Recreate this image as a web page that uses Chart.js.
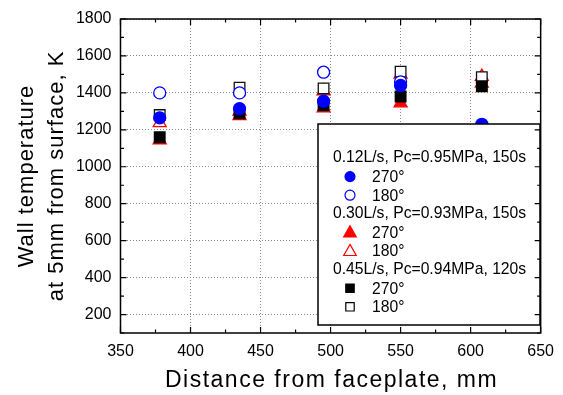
<!DOCTYPE html>
<html><head><meta charset="utf-8">
<script src="https://cdn.jsdelivr.net/npm/chart.js@4"></script>
<style>html,body{margin:0;padding:0;background:#fff}#wrap{width:563px;height:395px}</style>
</head><body><div id="wrap"><canvas id="c" width="563" height="395"></canvas></div>
<script>
const distance = [378, 435, 495, 550, 608];
const s012_270 = [1265, 1315, 1355, 1440, 1230];
const s012_180 = [1400, 1400, 1512, 1460, null];
const s030_270 = [1145, 1275, 1318, 1345, 1452];
const s030_180 = [1238, 1300, 1410, 1500, 1488];
const s045_270 = [1160, 1290, 1333, 1380, 1436];
const s045_180 = [1280, 1428, 1424, 1515, 1485];
const xTicks = [350, 400, 450, 500, 550, 600, 650];
const yTicks = [200, 400, 600, 800, 1000, 1200, 1400, 1600, 1800];
const groupTitles = ['0.12L/s, Pc=0.95MPa, 150s', '0.30L/s, Pc=0.93MPa, 150s', '0.45L/s, Pc=0.94MPa, 120s'];
const angleLabels = ['270°', '180°'];
const xTitle = 'Distance from faceplate, mm';
const yTitle = ['Wall temperature', 'at 5mm from surface, K'];

const FONT = '"Liberation Sans", Arial, sans-serif';
const pts = v => distance.map((x, i) => ({x, y: v[i]}));
function ds(label, data, style, color, filled, r, order) {
  return {label, data: pts(data), showLine: false, pointStyle: style, pointRadius: r, pointHoverRadius: r,
    pointBackgroundColor: filled ? color : '#fff', pointBorderColor: color, pointBorderWidth: 1.3, order};
}
const datasets = [
  ds('0.12 270', s012_270, 'circle', '#0000ff', true, 6, 0),
  ds('0.12 180', s012_180, 'circle', '#0000ff', false, 6, 0),
  ds('0.30 270', s030_270, 'triangle', '#ff0000', true, 7.5, 2),
  ds('0.30 180', s030_180, 'triangle', '#ff0000', false, 7.5, 2),
  ds('0.45 270', s045_270, 'rect', '#000000', true, 7.5, 1),
  ds('0.45 180', s045_180, 'rect', '#111111', false, 7.5, 1),
];

function marker(ctx, style, x, y, r, color, filled) {
  ctx.save();
  ctx.beginPath();
  if (style === 'circle') ctx.arc(x, y, r, 0, Math.PI * 2);
  else if (style === 'rect') ctx.rect(x - r, y - r, 2 * r, 2 * r);
  else { ctx.moveTo(x, y - r * 1.1); ctx.lineTo(x + r * 1.05, y + r * 0.75); ctx.lineTo(x - r * 1.05, y + r * 0.75); ctx.closePath(); }
  ctx.fillStyle = filled ? color : '#fff';
  ctx.fill();
  ctx.lineWidth = 1.2; ctx.strokeStyle = color; ctx.stroke();
  ctx.restore();
}

const decor = {
  id: 'decor',
  afterDatasetsDraw(chart) {
    const {ctx, chartArea: a, scales: {x, y}} = chart;
    ctx.save();
    // legend box
    const L = 318, T = 124, R = 540, B = 325;
    ctx.fillStyle = '#fff'; ctx.fillRect(L, T, R - L, B - T);
    ctx.lineWidth = 1.5; ctx.strokeStyle = '#000'; ctx.strokeRect(L, T, R - L, B - T);
    ctx.fillStyle = '#000'; ctx.textBaseline = 'middle'; ctx.textAlign = 'left';
    ctx.font = '15.7px ' + FONT;
    const styles = [['circle', '#0000ff'], ['triangle', '#ff0000'], ['rect', '#000000']];
    let yy = 158;
    groupTitles.forEach((t, g) => {
      ctx.fillStyle = '#000';
      ctx.fillText(t, 333, yy); yy += 18.6;
      angleLabels.forEach((lab, k) => {
        const [st, col] = styles[g];
        const rr = st === 'circle' ? 5 : (st === 'rect' ? 4.2 : 6);
        marker(ctx, st, 350, yy, rr, col, k === 0);
        ctx.fillStyle = '#000';
        ctx.fillText(lab, 372, yy + 1); yy += 18.6;
      });
    });
    // frame
    ctx.lineWidth = 1.5; ctx.strokeStyle = '#000';
    ctx.strokeRect(a.left, a.top, a.right - a.left, a.bottom - a.top);
    // ticks (inward) on all sides
    ctx.lineWidth = 1.2;
    ctx.beginPath();
    for (let v = x.min; v <= x.max; v += 25) {
      const px = x.getPixelForValue(v), len = (v % 50 === 0) ? 6 : 3.5;
      ctx.moveTo(px, a.bottom); ctx.lineTo(px, a.bottom - len);
      ctx.moveTo(px, a.top); ctx.lineTo(px, a.top + len);
    }
    for (let v = 100; v <= 1800; v += 100) {
      const py = y.getPixelForValue(v), len = (v % 200 === 0) ? 6 : 3.5;
      ctx.moveTo(a.left, py); ctx.lineTo(a.left + len, py);
      ctx.moveTo(a.right, py); ctx.lineTo(a.right - len, py);
    }
    ctx.stroke();
    // axis titles
    ctx.fillStyle = '#000';
    ctx.textAlign = 'center'; ctx.textBaseline = 'middle';
    ctx.font = '23px ' + FONT;
    ctx.letterSpacing = '1.5px';
    ctx.fillText(xTitle, (a.left + a.right) / 2 + 1, 381);
    ctx.font = '22px ' + FONT;
    ctx.letterSpacing = '1px';
    ctx.save();
    ctx.translate(27, (a.top + a.bottom) / 2); ctx.rotate(-Math.PI / 2);
    ctx.fillText(yTitle[0], 0, 0);
    ctx.fillText(yTitle[1], 0, 30);
    ctx.restore();
    ctx.letterSpacing = '0px';
    ctx.restore();
  }
};

new Chart(document.getElementById('c'), {
  type: 'scatter',
  data: {datasets},
  options: {
    responsive: false, animation: false, devicePixelRatio: 1,
    layout: {padding: {left: 0, top: 19, right: 19, bottom: 0}},
    plugins: {legend: {display: false}, tooltip: {enabled: false}},
    scales: {
      x: {type: 'linear', min: 350, max: 650,
        afterBuildTicks: s => { s.ticks = xTicks.map(v => ({value: v})); },
        afterFit: s => { s.height = 62; },
        ticks: {color: '#000', font: {size: 16, family: FONT}, padding: 9, maxRotation: 0, callback: v => String(v)},
        grid: {color: '#8a8a8a', lineWidth: 1, drawTicks: false},
        border: {display: false, dash: [1, 2]}},
      y: {type: 'linear', min: 100, max: 1800,
        afterBuildTicks: s => { s.ticks = yTicks.map(v => ({value: v})); },
        afterFit: s => { s.width = 120.5; },
        ticks: {color: '#000', font: {size: 16, family: FONT}, padding: 9, callback: v => String(v)},
        grid: {color: '#8a8a8a', lineWidth: 1, drawTicks: false},
        border: {display: false, dash: [1, 2]}}
    }
  },
  plugins: [decor]
});
</script></body></html>
